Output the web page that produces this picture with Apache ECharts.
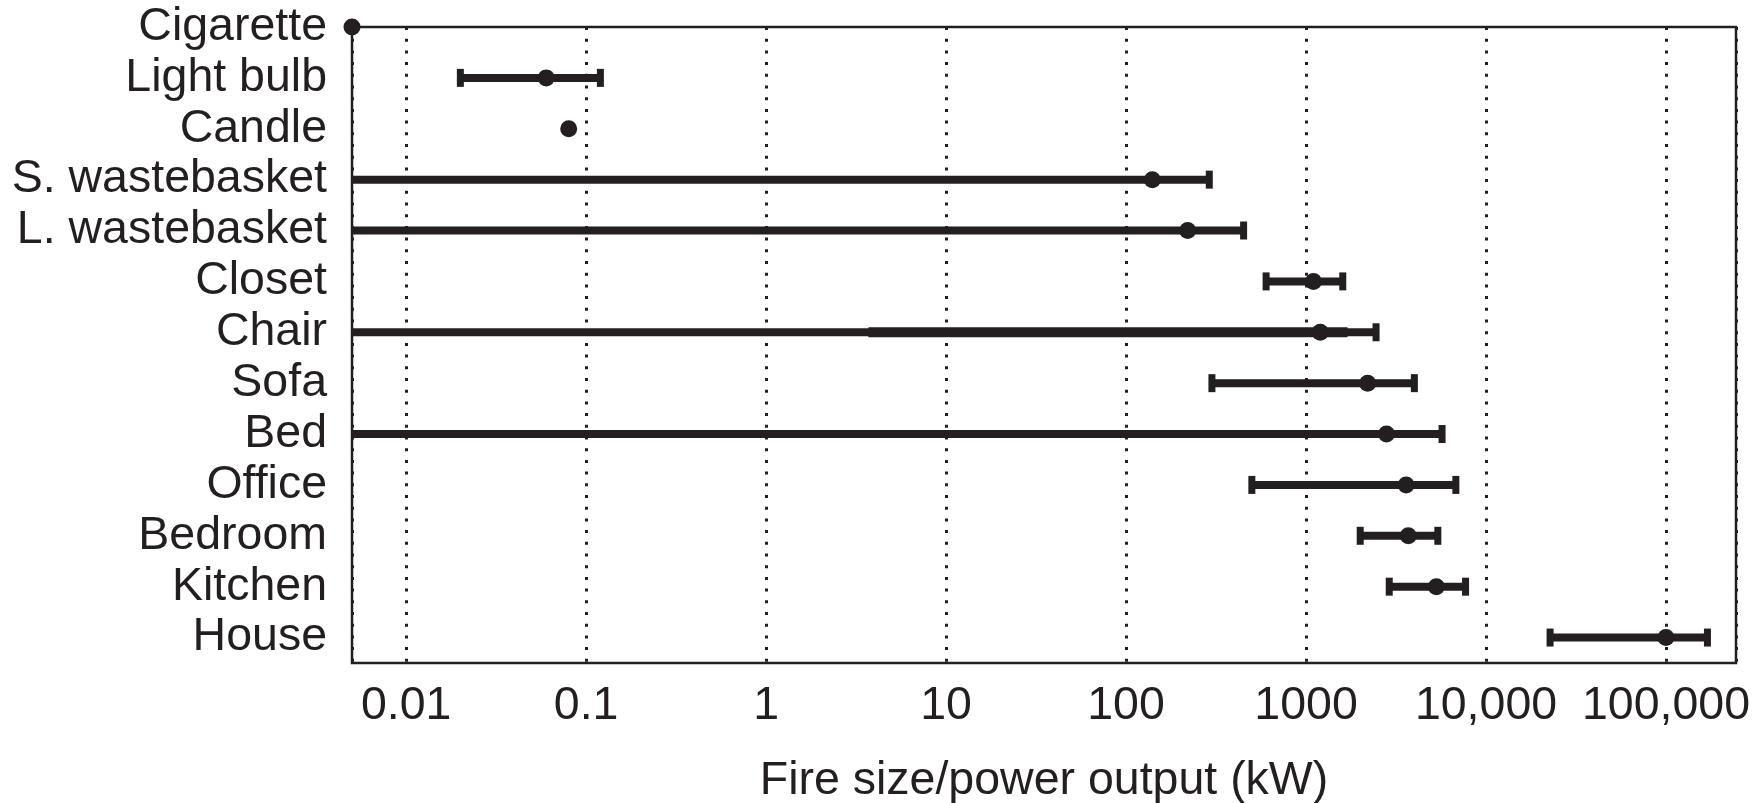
<!DOCTYPE html>
<html>
<head>
<meta charset="utf-8">
<title>Fire size / power output</title>
<script src="https://cdn.jsdelivr.net/npm/echarts@6/dist/echarts.min.js"></script>
<style>
  html, body { margin: 0; padding: 0; background: #fff; }
  #chart { width: 1764px; height: 803px; }
</style>
</head>
<body>
<div id="chart"></div>
<script>
// Typical fire sizes (kW) for common items, with the reported range for each.
const categories = ['Cigarette', 'Light bulb', 'Candle', 'S. wastebasket', 'L. wastebasket',
  'Closet', 'Chair', 'Sofa', 'Bed', 'Office', 'Bedroom', 'Kitchen', 'House'];

// Typical value (dot), kW
const typicalKW = [0.005, 0.06, 0.08, 140, 220, 1100, 1200, 2200, 2800, 3600, 3700, 5300, 100000];
// Range limits, kW (null = no range; 0.001 lies below the axis, so the bar runs off the left edge)
const lowKW  = [null, 0.02, null, 0.001, 0.001, 600, 0.001, 300, 0.001, 500, 2000, 2900, 22700];
const highKW = [null, 0.12, null, 290, 450, 1600, 2450, 4000, 5700, 6800, 5400, 7700, 170000];
// Chair: a second, narrower reported range drawn over the first
const chairInnerKW = [3.7, 1700];

// Axis ticks
const tickValues = [0.01, 0.1, 1, 10, 100, 1000, 10000, 100000];
const tickLabels = ['0.01', '0.1', '1', '10', '100', '1000', '10,000', '100,000'];

const INK = '#231f20';
const FONT = "'Liberation Sans', Arial, Helvetica, sans-serif";
const FONT_SIZE = 46.5;

const rangeData = [];
categories.forEach(function (c, i) {
  if (lowKW[i] != null && highKW[i] != null) rangeData.push([lowKW[i], highKW[i], i, 8]);
});
const chairRow = categories.indexOf('Chair');
const innerData = [[chairInnerKW[0], chairInnerKW[1], chairRow, 10]];
const dotData = typicalKW.map(function (v, i) { return [v, i]; });

function renderRange(capped) {
  return function (params, api) {
    const lo = api.value(0), hi = api.value(1), row = api.value(2), thick = api.value(3);
    const cs = params.coordSys;
    const pLo = api.coord([lo, row]);
    const pHi = api.coord([hi, row]);
    const left = cs.x, right = cs.x + cs.width;
    const x0 = Math.max(pLo[0], left);
    const x1 = Math.min(pHi[0], right);
    const y = pHi[1];
    const children = [{
      type: 'rect',
      shape: { x: x0, y: y - thick / 2, width: x1 - x0, height: thick },
      style: { fill: INK }
    }];
    const capW = 7, capH = 18;
    if (capped) {
      if (pLo[0] >= left) {
        children.push({ type: 'rect', shape: { x: pLo[0] - capW / 2, y: y - capH / 2, width: capW, height: capH }, style: { fill: INK } });
      }
      if (pHi[0] <= right) {
        children.push({ type: 'rect', shape: { x: pHi[0] - capW / 2, y: y - capH / 2, width: capW, height: capH }, style: { fill: INK } });
      }
    }
    return { type: 'group', children: children };
  };
}

const chart = echarts.init(document.getElementById('chart'), null, { renderer: 'canvas' });

chart.setOption({
  animation: false,
  backgroundColor: '#fff',
  textStyle: { fontFamily: FONT, color: INK },
  grid: {
    left: 352, right: 28, top: 27, bottom: 140,
    containLabel: false,
    outerBoundsMode: 'none',
    show: true, borderColor: INK, borderWidth: 2.5, backgroundColor: 'transparent'
  },
  xAxis: {
    type: 'log',
    logBase: 10,
    min: 0.005,
    max: 245000,
    name: 'Fire size/power output (kW)',
    nameLocation: 'middle',
    nameGap: 95,
    nameTextStyle: { fontSize: FONT_SIZE, color: INK, fontFamily: FONT, lineHeight: FONT_SIZE },
    axisLine: { show: false },
    axisTick: { show: false },
    axisLabel: {
      fontSize: FONT_SIZE, lineHeight: FONT_SIZE, color: INK, fontFamily: FONT, margin: 20,
      showMinLabel: true, showMaxLabel: true,
      formatter: function (v) {
        const idx = tickValues.findIndex(function (t) { return Math.abs(Math.log10(v) - Math.log10(t)) < 1e-6; });
        return idx >= 0 ? tickLabels[idx] : '';
      }
    },
    splitLine: {
      show: true,
      lineStyle: { color: INK, width: 3, type: [3, 8.7] }
    }
  },
  yAxis: {
    type: 'value',
    inverse: true,
    min: 0,
    max: 12.5,
    interval: 1,
    axisLine: { show: false },
    axisTick: { show: false },
    splitLine: { show: false },
    axisLabel: {
      fontSize: FONT_SIZE, color: INK, fontFamily: FONT, margin: 25,
      showMinLabel: true, showMaxLabel: false,
      formatter: function (v) {
        return Number.isInteger(v) && categories[v] ? categories[v] : '';
      }
    }
  },
  series: [
    {
      type: 'custom',
      name: 'Range',
      renderItem: renderRange(true),
      encode: { x: [0, 1], y: 2 },
      data: rangeData,
      z: 3
    },
    {
      type: 'custom',
      name: 'Chair inner range',
      renderItem: renderRange(false),
      encode: { x: [0, 1], y: 2 },
      data: innerData,
      z: 3
    },
    {
      type: 'scatter',
      name: 'Typical',
      data: dotData,
      symbol: 'circle',
      symbolSize: 17,
      clip: false,
      itemStyle: { color: INK, opacity: 1 },
      z: 4
    }
  ]
});
</script>
</body>
</html>
